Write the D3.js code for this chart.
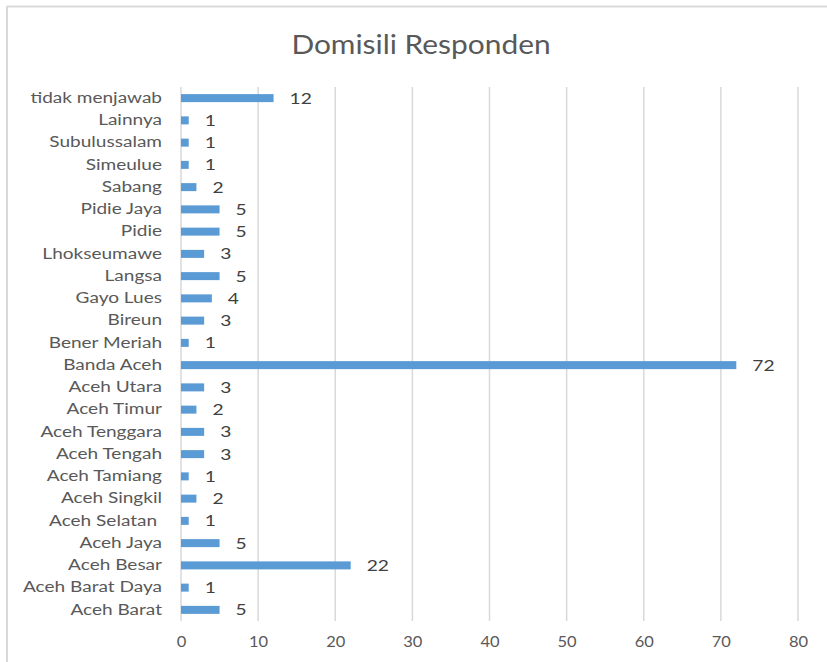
<!DOCTYPE html>
<html><head><meta charset="utf-8">
<script src="https://cdn.jsdelivr.net/npm/d3@7"></script>
<style>body{margin:0;background:#fff}svg{display:block}</style>
</head><body>
<script>
const categories = ["tidak menjawab","Lainnya","Subulussalam","Simeulue","Sabang","Pidie Jaya","Pidie","Lhokseumawe","Langsa","Gayo Lues","Bireun","Bener Meriah","Banda Aceh","Aceh Utara","Aceh Timur","Aceh Tenggara","Aceh Tengah","Aceh Tamiang","Aceh Singkil","Aceh Selatan ","Aceh Jaya","Aceh Besar","Aceh Barat Daya","Aceh Barat"];
const values = [12,1,1,1,2,5,5,3,5,4,3,1,72,3,2,3,3,1,2,1,5,22,1,5];
const tickValues = [0,10,20,30,40,50,60,70,80];
const title = "Domisili Responden";

const W = 827, H = 662;
const font = "Lato, 'Open Sans', sans-serif";
const svg = d3.select("body").append("svg").attr("width", W).attr("height", H);

svg.append("line").attr("x1",7).attr("x2",W).attr("y1",6.5).attr("y2",6.5).attr("stroke","#d9d9d9").attr("stroke-width",2);
svg.append("line").attr("x1",7).attr("x2",7).attr("y1",6).attr("y2",H).attr("stroke","#d9d9d9").attr("stroke-width",2);

const x = d3.scaleLinear().domain([0,80]).range([181,798]);
const y = d3.scaleBand().domain(categories).range([87,621]).paddingInner(0.64).paddingOuter(0.32);

svg.append("text").attr("transform","translate(421,54) scale(1.15,1)").attr("text-anchor","middle")
  .attr("font-family",font).attr("font-size",26).attr("fill","#595959").text(title);

const grid = svg.append("g");
grid.selectAll("line").data(tickValues).join("line")
  .attr("x1",d=>x(d)).attr("x2",d=>x(d)).attr("y1",87).attr("y2",621)
  .attr("stroke","#d9d9d9").attr("stroke-width",1.5);

const xAxis = svg.append("g").attr("transform","translate(0,621)")
  .call(d3.axisBottom(x).tickValues(tickValues).tickSize(0).tickPadding(15));
xAxis.select(".domain").remove();
xAxis.selectAll("text").attr("font-family",font).attr("font-size",15).attr("fill","#595959")
  .attr("transform","scale(1.1,1)");

const ys = 1.27;
const yAxis = svg.append("g").attr("transform","translate(181,0)")
  .call(d3.axisLeft(y).tickSize(0).tickPadding(19));
yAxis.select(".domain").remove();
yAxis.selectAll("text").attr("font-family",font).attr("font-size",15).attr("fill","#595959")
  .style("white-space","pre").attr("x",-19/ys).attr("transform",`scale(${ys},1)`);

svg.append("g").selectAll("rect").data(categories).join("rect")
  .attr("x",x(0)).attr("y",d=>y(d)).attr("height",y.bandwidth())
  .attr("width",(d,i)=>x(values[i])-x(0)).attr("fill","#5b9bd5");

svg.append("g").selectAll("text").data(categories).join("text")
  .attr("transform",(d,i)=>`translate(${x(values[i])+16},${y(d)+y.bandwidth()/2}) scale(1.2,1)`)
  .attr("dy","0.35em")
  .attr("font-family",font).attr("font-size",16).attr("fill","#404040")
  .text((d,i)=>values[i]);
</script>
</body></html>
